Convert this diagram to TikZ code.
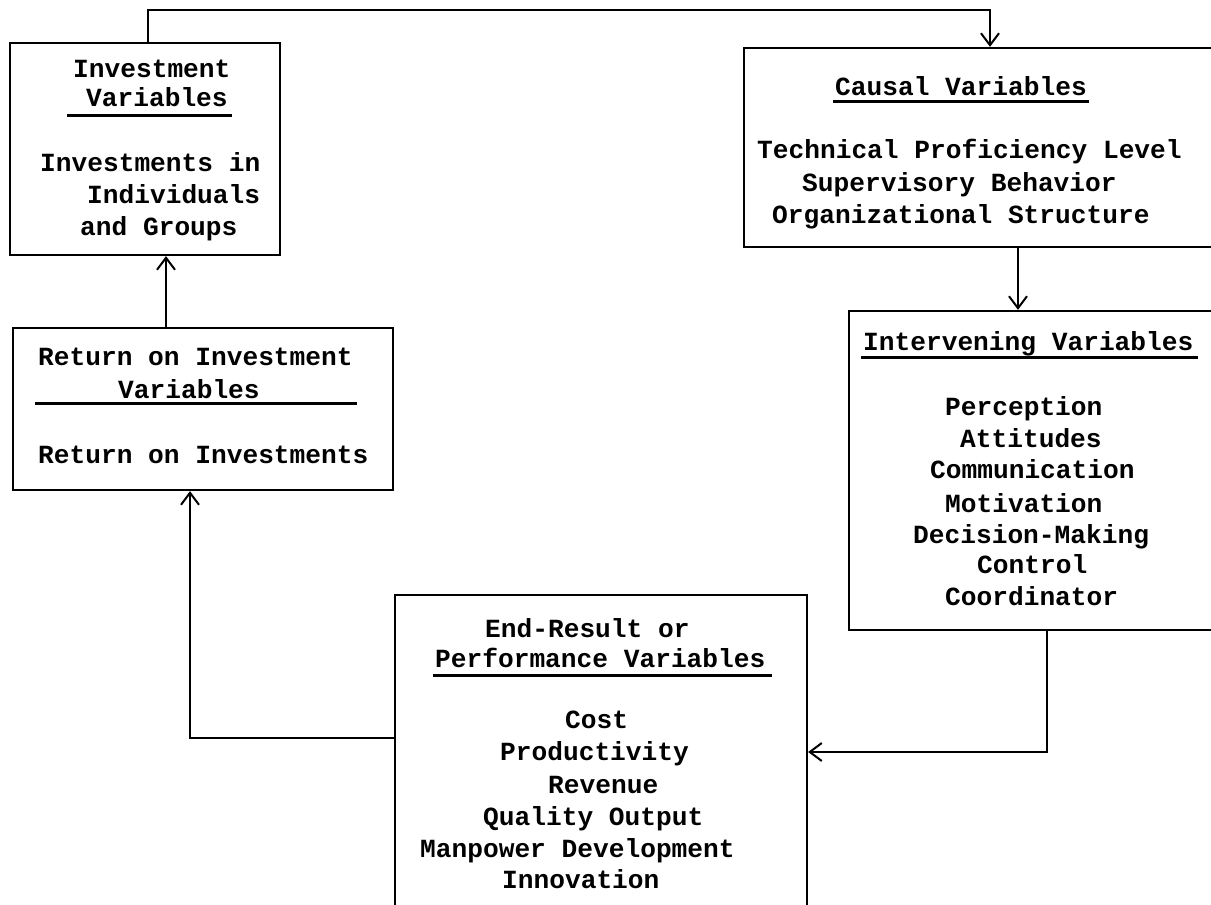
\documentclass[tikz,border=0pt]{standalone}
\usepackage{fontspec}
\setmonofont{Liberation Mono}
\usetikzlibrary{arrows.meta}
\begin{document}
\begin{tikzpicture}[x=1pt,y=-1pt,
  box/.style={draw, line width=2.2pt, inner sep=0pt},
  txt/.style={inner sep=0pt, anchor=base west, font=\ttfamily\bfseries\fontsize{26.2}{31}\selectfont},
  arr/.style={line width=2pt, -{Straight Barb[length=12pt,width=18pt,line width=2pt]}},
  ul/.style={line width=3pt}]
\useasboundingbox (0,0) rectangle (1211,905);
\clip (0,0) rectangle (1211,905);
\fill[white] (0,0) rectangle (1211,905);

% boxes
\node[box, minimum width=270pt, minimum height=212pt] (inv) at (145,149) {};
\node[box, minimum width=496pt, minimum height=199pt] (causal) at (992,147.5) {};
\node[box, minimum width=391pt, minimum height=319pt] (interv) at (1044.5,470.5) {};
\node[box, minimum width=380pt, minimum height=162pt] (ret) at (203,409) {};
\node[box, minimum width=412pt, minimum height=315pt] (end) at (601,752.5) {};

% Investment box text
\node[txt] (i1) at (73,77) {Investment};
\node[txt] (i2) at (86,106) {Variables};
\draw[ul] (67,115) -- (232,115);
\node[txt] (i3) at (40,171) {Investments in};
\node[txt] (i4) at (87,203) {Individuals};
\node[txt] (i5) at (80,235) {and Groups};

% Causal box text
\node[txt] (c1) at (835,95) {Causal Variables};
\draw[ul] (833,101) -- (1089,101);
\node[txt] (c2) at (757,158) {Technical Proficiency Level};
\node[txt] (c3) at (802,191) {Supervisory Behavior};
\node[txt] (c4) at (772,223) {Organizational Structure};

% Intervening box text
\node[txt] (v1) at (863,350) {Intervening Variables};
\draw[ul] (861,357) -- (1198,357);
\node[txt] (v2) at (945,415) {Perception};
\node[txt] (v3) at (960,447) {Attitudes};
\node[txt] (v4) at (930,478) {Communication};
\node[txt] (v5) at (945,512) {Motivation};
\node[txt] (v6) at (913,543) {Decision-Making};
\node[txt] (v7) at (977,573) {Control};
\node[txt] (v8) at (945,605) {Coordinator};

% Return box text
\node[txt] (r1) at (38,365) {Return on Investment};
\node[txt] (r2) at (118,398) {Variables};
\draw[ul] (35,403) -- (357,403);
\node[txt] (r3) at (38,463) {Return on Investments};

% End-result box text
\node[txt] (e1) at (485,637) {End-Result or};
\node[txt] (e2) at (435,667) {Performance Variables};
\draw[ul] (433,675) -- (772,675);
\node[txt] (e3) at (565,728) {Cost};
\node[txt] (e4) at (500,760) {Productivity};
\node[txt] (e5) at (548,793) {Revenue};
\node[txt] (e6) at (483,825) {Quality Output};
\node[txt] (e7) at (420,857) {Manpower Development};
\node[txt] (e8) at (502,888) {Innovation};

% helper coordinates
\coordinate (h148) at (148,10);
\coordinate (h990) at (990,10);
\coordinate (h1018) at (1018,0);
\coordinate (h1047) at (1047,752);
\coordinate (h190) at (190,738);
\coordinate (h166) at (166,0);

% connectors
\draw[arr] (inv.north -| h148) -- (h148) -- (h990) -- (causal.north -| h990);
\draw[arr] (causal.south -| h1018) -- (interv.north -| h1018);
\draw[arr] (interv.south -| h1047) -- (h1047) -- (end.east |- h1047);
\draw[arr] (end.west |- h190) -- (h190) -- (ret.south -| h190);
\draw[arr] (ret.north -| h166) -- (inv.south -| h166);
\end{tikzpicture}
\end{document}
